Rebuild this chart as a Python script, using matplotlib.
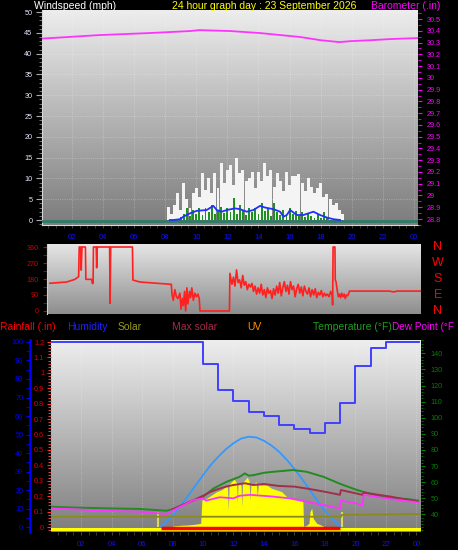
import numpy as np
import matplotlib
matplotlib.use('Agg')
import matplotlib.pyplot as plt
from matplotlib.colors import LinearSegmentedColormap
from matplotlib.ticker import MultipleLocator, FixedLocator, FuncFormatter
import matplotlib.transforms as mtrans

plt.rcParams['font.family'] = ['Liberation Sans', 'DejaVu Sans']

# ---------------- data ----------------
hour_ticks = [2, 4, 6, 8, 10, 12, 14, 16, 18, 20, 22, 24]
hour_labels = ['02', '04', '06', '08', '10', '12', '14', '16', '18', '20', '22', '00']

# Barometer (inHg)
baro_hours = [0.1, 1.5, 3.8, 7.0, 9.6, 10.2, 12.2, 14.1, 15.4, 16.7, 18.0, 19.2, 19.9, 21.2, 22.5, 24.2]
baro_inhg = [30.334, 30.345, 30.364, 30.381, 30.398, 30.406, 30.398, 30.381, 30.364, 30.347, 30.320,
             30.304, 30.312, 30.320, 30.330, 30.338]

# Wind gust (mph), every 0.2 h starting 8.2 h
gust_start = 8.2
gust_mph = [3.2, 1.5, 3.5, 6.4, 2.5, 8.8, 5.0, 3.0, 6.4, 7.6,
            5.6, 11.2, 7.2, 10.0, 6.5, 11.2, 7.6, 13.6, 9.0, 12.0,
            13.3, 8.5, 14.8, 11.2, 12.0, 9.5, 10.0, 11.6, 7.6, 11.6,
            9.5, 13.6, 10.5, 12.0, 8.0, 11.2, 9.5, 7.0, 11.6, 8.5,
            10.5, 10.5, 11.0, 9.0, 7.0, 10.0, 8.0, 6.5, 7.6, 9.0,
            5.5, 6.2, 5.0, 3.5, 4.0, 2.5, 1.5]

# Wind speed (mph), every 0.2 h starting 9.0 h
speed_start = 9.0
speed_mph = [0.8, 1.5, 2.9, 1.0, 2.5, 1.5, 2.8, 1.2, 3.0, 2.0,
             3.6, 1.5, 2.5, 3.2, 1.8, 3.0, 2.0, 5.3, 1.5, 3.5,
             2.5, 1.2, 3.0, 2.0, 2.8, 1.5, 4.1, 2.2, 3.0, 1.0,
             4.1, 2.0, 1.2, 2.5, 1.0, 2.9, 1.5, 2.2, 1.0, 2.0,
             0.8, 1.8, 1.0, 0.6, 1.5, 0.5, 2.0, 0.5]

# Average wind (mph)
avg_hours = [8.3, 8.53, 8.96, 9.17, 9.6, 10.03, 10.67, 11.1, 11.32, 11.64, 11.96, 12.49, 12.81,
             13.25, 13.67, 14.1, 14.42, 14.96, 15.39, 15.6, 15.82, 16.03, 16.46, 16.88, 17.53,
             17.96, 18.39, 18.81, 19.24]
avg_mph = [0, 0, 0.2, 0.8, 1.6, 2.2, 2.4, 3.4, 2.4, 2.0, 2.4, 2.8, 2.6, 2.0, 2.4, 3.4, 3.0,
           2.6, 2.0, 0.8, 1.2, 2.4, 1.2, 1.2, 2.0, 1.2, 0.6, 0.2, 0]

# Wind direction (hour, degrees)
wind_dir_points = [
    (0.0, 156), (1.08, 163), (1.62, 178), (1.86, 193), (1.9, 360), (2.0, 360), (2.03, 230),
    (2.08, 360), (2.3, 360), (2.33, 178), (2.7, 178), (2.75, 155), (2.8, 155), (2.82, 360),
    (3.0, 360), (3.03, 243), (3.07, 360), (3.87, 360), (3.9, 43), (3.94, 360), (5.35, 360),
    (5.38, 174), (5.84, 163), (7.57, 152), (7.87, 150), (7.92, 90), (8.0, 60), (8.1, 120),
    (8.2, 80), (8.3, 70), (8.43, 100), (8.5, 10), (8.58, 70), (8.65, 30), (8.73, 110),
    (8.8, 0), (8.88, 130), (8.95, 40), (9.05, 110), (9.12, 75), (9.2, 130), (9.3, 60),
    (9.4, 100), (9.5, 80), (9.6, 95), (9.68, 70), (9.73, 0), (11.64, 0), (11.67, 212),
    (11.8, 150), (11.9, 190), (12.0, 140), (12.1, 231), (12.2, 160), (12.3, 175), (12.4, 130),
    (12.5, 200), (12.6, 145), (12.7, 165), (12.8, 120), (12.9, 150), (13.0, 135), (13.1, 155),
    (13.2, 110), (13.3, 140), (13.4, 95), (13.5, 130), (13.6, 100), (13.7, 150), (13.8, 90),
    (13.9, 120), (14.0, 75), (14.1, 130), (14.2, 100), (14.3, 115), (14.4, 70), (14.5, 125),
    (14.6, 90), (14.7, 140), (14.8, 100), (14.9, 160), (15.0, 85), (15.1, 130), (15.2, 165),
    (15.3, 110), (15.4, 145), (15.5, 95), (15.6, 165), (15.7, 120), (15.8, 140), (15.9, 80),
    (16.0, 125), (16.1, 150), (16.2, 100), (16.3, 135), (16.4, 85), (16.5, 140), (16.6, 110),
    (16.7, 95), (16.8, 130), (16.9, 80), (17.0, 120), (17.1, 90), (17.2, 125), (17.3, 75),
    (17.4, 105), (17.5, 90), (17.6, 115), (17.7, 80), (17.8, 100), (17.9, 85), (18.0, 95),
    (18.1, 80), (18.2, 110), (18.3, 90), (18.33, 34), (18.36, 360), (18.48, 360), (18.5, 174),
    (18.55, 165), (18.62, 120), (18.7, 80), (18.78, 95), (18.85, 75), (18.92, 100), (19.0, 80),
    (19.08, 95), (19.15, 70), (19.22, 90), (19.3, 85), (19.38, 100), (19.42, 112), (22.0, 112),
    (22.3, 107), (22.5, 112), (24.04, 112)]
dir_labels = [(360, 'N'), (270, 'W'), (180, 'S'), (90, 'E'), (0, 'N')]

# Humidity (%) hourly steps
hum_edges = [0, 10, 11, 12, 13, 14, 15, 16, 17, 18, 19, 20, 21, 22, 24.2]
hum_pct = [100, 88, 74, 68, 62, 60, 55, 53, 51, 56, 67, 87, 97, 100, 100]

# Solar (scaled on humidity axis)
solar_hours = [7.8, 8.1, 8.5, 9.0, 9.5, 9.85, 9.93, 10.24, 10.57, 10.9, 11.2, 11.5, 11.6, 11.66,
               11.72, 11.88, 12.03, 12.2, 12.25, 12.3, 12.43, 12.5, 12.54, 12.6, 12.75, 12.9,
               13.02, 13.08, 13.15, 13.3, 13.48, 13.56, 13.64, 13.74, 14.18, 14.5, 14.83, 15.16,
               15.49, 15.92, 16.36, 16.55, 16.6, 16.8, 16.95, 17.02, 17.13, 17.23, 17.46, 17.89, 18.0]
solar_vals = [0, 0.6, 0.9, 1.1, 1.5, 2.0, 14.6, 15.5, 17.3, 19.1, 20.0, 21.8, 21.5, 9.2,
              23.0, 24.5, 25.8, 24.0, 12.8, 23.5, 23.6, 22.0, 11.0, 24.0, 25.4, 26.9,
              25.0, 14.6, 23.0, 22.7, 24.5, 16.4, 23.5, 22.7, 22.7, 20.9, 20.0, 19.1,
              16.4, 15.5, 14.6, 14.0, 0.3, 1.0, 2.0, 8.3, 10.1, 4.6, 2.0, 0.5, 0]

# Max solar curve (scaled on humidity axis)
maxsolar_hours = [7.25, 7.5, 8.0, 8.5, 9.0, 9.5, 10.0, 10.5, 11.0, 11.5, 12.0, 12.5, 13.0,
                  13.5, 14.0, 14.5, 15.0, 15.5, 16.0, 16.5, 17.0, 17.5, 18.0, 18.5, 19.0]
maxsolar_vals = [0.2, 2.2, 6.1, 11.1, 16.6, 22.3, 28.0, 33.4, 38.0, 42.0, 45.3, 47.8, 48.8,
                 48.4, 46.6, 44.0, 40.6, 36.3, 31.4, 25.9, 20.1, 14.2, 8.8, 4.3, 0.0]
sun_marks = [7.05, 19.1]

# Temperature (F)
temp_hours = [0, 1.5, 3.7, 5.9, 7.6, 8.05, 8.6, 9.15, 10.0, 10.7, 11.55, 12.4, 12.75, 13.0, 13.3,
              14.0, 14.6, 15.3, 15.9, 16.8, 17.9, 19.0, 20.1, 21.2, 22.3, 23.4, 24.1]
temp_f = [44.7, 44.2, 43.7, 43.3, 42.2, 43.3, 45.5, 47.8, 50.9, 56.1, 60.2, 63.3, 65.4, 64.0, 64.3,
          65.8, 66.4, 67.0, 67.5, 66.4, 63.3, 58.9, 55.1, 52.1, 50.0, 49.5, 48.5]
# Dew point (F)
dew_hours = [0, 1.5, 3.7, 5.9, 7.6, 8.5, 9.4, 10.0, 10.2, 11.1, 12.0, 12.4, 13.1, 14.6, 15.7, 16.8,
             17.9, 18.98, 19.05, 20.1, 20.45, 20.55, 22.3, 24.1]
dew_f = [43.7, 43.1, 42.2, 41.6, 40.2, 44.7, 48.9, 49.9, 48.5, 50.6, 49.9, 51.5, 52.1, 51.0, 49.9,
         47.8, 45.8, 43.7, 48.5, 46.8, 45.4, 52.1, 49.5, 47.4]
# Apparent temperature (F)
app_hours = [8.05, 9.15, 10.0, 10.5, 11.0, 11.5, 12.0, 12.75, 13.3, 14.0, 15.0, 16.0, 17.0, 18.0,
             18.98, 19.05, 20.45, 20.55, 22.3, 24.1]
app_f = [43.3, 47.8, 51.5, 54.0, 55.7, 57.2, 58.2, 59.3, 58.2, 58.8, 57.6, 57.2, 55.7, 54.0,
         52.1, 55.1, 52.1, 53.5, 51.0, 47.8]
# Olive line (F scale)
olive_hours = [0, 19.05, 19.1, 24.2]
olive_f = [38.5, 38.5, 39.6, 40.2]
# UV / rain baseline span
uv_span = [7.23, 18.98]

# ---------------- figure ----------------
W, H = 458, 550
fig = plt.figure(figsize=(W / 100, H / 100), dpi=100)
fig.patch.set_facecolor('black')


def rect(x0, y0, x1, y1):
    return [x0 / W, 1 - y1 / H, (x1 - x0) / W, (y1 - y0) / H]


def background(r, top, bottom):
    bg = fig.add_axes(r)
    grad = np.linspace(0, 1, 256).reshape(-1, 1)
    cmap = LinearSegmentedColormap.from_list('bg', [top, bottom])
    bg.imshow(grad, aspect='auto', cmap=cmap, origin='upper', extent=[0, 1, 0, 1],
              interpolation='bilinear')
    bg.set_axis_off()
    return bg


def clean(ax):
    ax.set_facecolor('none')
    for s in ax.spines.values():
        s.set_visible(False)


TICK_FS = 5.2
BLUE = '#1010ff'

# ---------- top panel ----------
r1 = rect(42, 10, 418, 225)
background(r1, '#ededed', '#7c7c7c')
ax1 = fig.add_axes(r1)
clean(ax1)
ax1.spines['left'].set_visible(True)
ax1.spines['left'].set_color('#d8d8d8')
ax1.spines['bottom'].set_visible(True)
ax1.spines['bottom'].set_color('#d8d8d8')
ax1.set_xlim(0.09, 24.25)
ax1.set_ylim(-1.2, 50.5)
ax1.grid(True, color='white', alpha=0.35, ls=':', lw=0.6)
gust_hours = gust_start + 0.2 * np.arange(len(gust_mph))
speed_hours = speed_start + 0.2 * np.arange(len(speed_mph))
ax1.bar(gust_hours, gust_mph, width=0.19, color='#f4f4f4', lw=0, zorder=2)
ax1.bar(speed_hours, speed_mph, width=0.12, color='#1f8f1f', lw=0, zorder=3)
ax1.axhline(-0.35, color='#2e7a66', lw=2, zorder=3)
ax1.plot(avg_hours, avg_mph, color='#2030ff', lw=1.3, zorder=4)
ax1.set_xticks(hour_ticks)
ax1.set_xticklabels(hour_labels)
ax1.xaxis.set_minor_locator(MultipleLocator(0.5))
ax1.tick_params(axis='x', which='both', colors='#444444', labelcolor=BLUE, labelsize=5.5,
                length=2.5, pad=4)
ax1.yaxis.set_major_locator(MultipleLocator(5))
ax1.yaxis.set_minor_locator(MultipleLocator(1))
ax1.tick_params(axis='y', which='major', colors='#aaaaaa', labelcolor='#e4e9ff',
                labelsize=TICK_FS, length=4, pad=3)
ax1.tick_params(axis='y', which='minor', colors='#888888', length=2.5)

ax1b = ax1.twinx()
clean(ax1b)
ax1b.set_ylim(28.749, 30.577)
ax1b.plot(baro_hours, baro_inhg, color='#ff33ff', lw=1.3, zorder=5)
ax1b.yaxis.set_major_locator(FixedLocator(np.round(np.arange(28.8, 30.55, 0.1), 1)))
ax1b.yaxis.set_minor_locator(MultipleLocator(0.05))
ax1b.yaxis.set_major_formatter(FuncFormatter(lambda v, p: f'{round(v, 1):g}'))
ax1b.tick_params(axis='y', which='major', colors='#ff00ff', labelcolor='#ff00ff',
                 labelsize=TICK_FS, length=3, pad=3)
ax1b.tick_params(axis='y', which='minor', colors='#ff00ff', length=2)

# ---------- middle panel ----------
r2 = rect(47, 244, 421, 314)
background(r2, '#e6e6e6', '#8e8e8e')
ax2 = fig.add_axes(r2)
clean(ax2)
ax2.spines['left'].set_visible(True)
ax2.spines['left'].set_color('#cfcfcf')
ax2.set_xlim(-0.19, 24.06)
ax2.set_ylim(-16.9, 376.9)
dh, dd = zip(*wind_dir_points)
ax2.plot(dh, dd, color='#ff2020', lw=1.2, zorder=3)
ax2.set_xticks([])
ax2.set_yticks([0, 90, 180, 270, 360])
ax2.yaxis.set_minor_locator(MultipleLocator(45))
ax2.tick_params(axis='y', which='both', colors='#cc0000', labelcolor='#cc0000',
                labelsize=TICK_FS, length=3, pad=3)
trans2 = mtrans.blended_transform_factory(ax2.transAxes, ax2.transData)
for val, lab in dir_labels:
    ax2.text(1.045, val, lab, transform=trans2, color='#ff0000', fontsize=9,
             ha='center', va='center', clip_on=False)

# ---------- bottom panel ----------
r3 = rect(51, 340, 421, 532)
background(r3, '#eeeeee', '#7e7e7e')
ax3 = fig.add_axes(r3)
clean(ax3)
ax3.set_xlim(0.03, 24.3)
ax3.set_ylim(-2.7, 101.08)
ax3.grid(True, axis='x', color='white', alpha=0.35, ls=':', lw=0.6)
ax3.fill_between(solar_hours, solar_vals, 0, color='#ffff00', lw=0, zorder=2)
ax3.vlines(sun_marks, 0, 8.3, color='#d8d860', lw=1.5, zorder=2)
ax3.plot(maxsolar_hours, maxsolar_vals, color='#3399ff', lw=1.3, zorder=3)
ax3.step(hum_edges, hum_pct, where='post', color='#4040ff', lw=1.4, zorder=4)
ax3.spines['left'].set_visible(True)
ax3.spines['left'].set_position(('outward', 15))
ax3.spines['left'].set_color('#0000ff')
ax3.spines['left'].set_linewidth(1.8)
ax3.yaxis.set_major_locator(MultipleLocator(10))
ax3.yaxis.set_minor_locator(MultipleLocator(5))
ax3.set_ylim(-2.7, 101.08)
ax3.tick_params(axis='y', which='both', colors='#0000ff', labelcolor='#0000ff',
                labelsize=TICK_FS, length=3, pad=2)
ax3.set_xticks(hour_ticks)
ax3.set_xticklabels(hour_labels)
ax3.xaxis.set_minor_locator(MultipleLocator(0.5))
ax3.tick_params(axis='x', which='both', colors='#444444', labelcolor=BLUE, labelsize=5.5,
                length=2.5, pad=4)

ax3r = ax3.twinx()
clean(ax3r)
ax3r.set_ylim(-0.0324, 1.213)
ax3r.yaxis.set_ticks_position('left')
ax3r.yaxis.set_major_locator(FixedLocator(np.round(np.arange(0, 1.25, 0.1), 1)))
ax3r.yaxis.set_minor_locator(MultipleLocator(0.02))
ax3r.yaxis.set_major_formatter(FuncFormatter(lambda v, p: f'{round(v, 1):g}'))
ax3r.tick_params(axis='y', which='major', colors='#ff3030', labelcolor='#dd0000',
                 labelsize=TICK_FS, length=3, pad=2)
ax3r.tick_params(axis='y', which='minor', colors='#ff5050', length=2)
ax3r.axhline(-0.0225, color='#3030ff', lw=1.2, zorder=2)
ax3r.axhline(-0.0097, color='#ffff00', lw=2.2, zorder=3)
ax3r.hlines(-0.0045, uv_span[0], uv_span[1], color='#ff0000', lw=2.5, zorder=4)

ax3t = ax3.twinx()
clean(ax3t)
ax3t.set_ylim(29.0, 148.3)
ax3t.plot(olive_hours, olive_f, color='#8a8a20', lw=1.3, zorder=2)
ax3t.plot(temp_hours, temp_f, color='#228b22', lw=1.4, zorder=3)
ax3t.plot(app_hours, app_f, color='#a0304a', lw=1.4, zorder=3)
ax3t.plot(dew_hours, dew_f, color='#ff33ff', lw=1.3, zorder=4)
ax3t.yaxis.set_major_locator(FixedLocator(np.arange(40, 141, 10)))
ax3t.yaxis.set_minor_locator(MultipleLocator(2))
ax3t.tick_params(axis='y', which='major', colors='#008000', labelcolor='#008000',
                 labelsize=TICK_FS, length=3, pad=4)
ax3t.tick_params(axis='y', which='minor', colors='#008000', length=1.5)

# ---------- header texts ----------
HFS = 7.5


def ftext(x, y, s, color, fs=HFS):
    fig.text(x / W, 1 - y / H, s, color=color, fontsize=fs, ha='left', va='center')


ftext(34, 6, 'Windspeed (mph)', 'white')
ftext(172, 6, '24 hour graph day : 23 September 2026', '#ffff00')
ftext(371, 6, 'Barometer (.in)', '#ff00ff')

ftext(0, 327, 'Rainfall (.in)', '#ff0000')
ftext(67, 327, 'Humidity', '#2020ff')
ftext(118, 327, 'Solar', '#9a9a20')
ftext(172, 327, 'Max solar', '#a52a4a')
ftext(247, 327, 'UV', '#ff8c00')
ftext(313, 327, 'Temperature (°F)', '#1e9e1e')
ftext(392, 327, 'Dew Point (°F', '#ff00ff', fs=7.2)

fig.savefig('out.png', dpi=100, facecolor='black')
